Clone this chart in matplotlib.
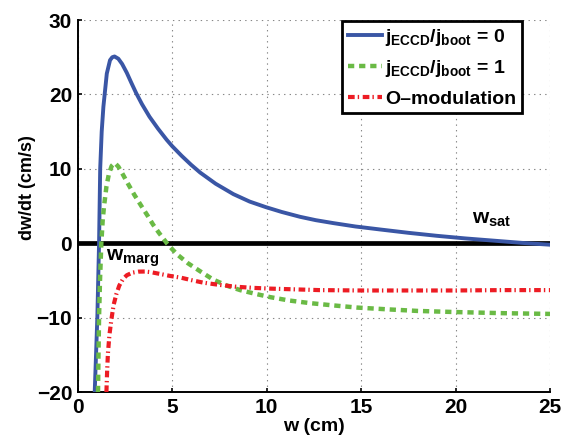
import matplotlib
matplotlib.use('Agg')
import matplotlib.pyplot as plt
import numpy as np

plt.rcParams['font.family'] = ['Liberation Sans', 'DejaVu Sans']
plt.rcParams['font.weight'] = 'bold'
plt.rcParams['mathtext.fontset'] = 'custom'
plt.rcParams['mathtext.rm'] = 'Liberation Sans:bold'
plt.rcParams['mathtext.it'] = 'Liberation Sans:bold'
plt.rcParams['mathtext.bf'] = 'Liberation Sans:bold'
plt.rcParams['lines.scale_dashes'] = False

# j_ECCD/j_boot = 0
w_0 = [0.90, 0.97, 1.04, 1.13, 1.19, 1.27, 1.36, 1.54, 1.71, 1.83, 1.95, 2.15, 2.35, 2.6,
       2.85, 3.09, 3.4, 3.8, 4.25, 4.71, 5.0, 5.5, 6.0, 6.48, 7.3, 8.24, 9.1, 9.96, 10.8,
       11.77, 12.6, 13.54, 14.7, 16.0, 17.5, 19.0, 20.5, 22.0, 23.5, 25.0]
dw_0 = [-20, -15, -9.9, 0, 10, 15, 18.35, 22.8, 24.6, 25.0, 25.1, 24.8, 24.1, 22.9,
        21.5, 20.2, 18.7, 17.0, 15.4, 13.9, 13.05, 11.75, 10.55, 9.5, 8.0, 6.6, 5.6, 4.85, 4.2,
        3.55, 3.1, 2.7, 2.25, 1.85, 1.4, 1.0, 0.65, 0.35, 0.05, -0.2]

# j_ECCD/j_boot = 1
w_1 = [1.075, 1.10, 1.13, 1.18, 1.25, 1.32, 1.39, 1.52, 1.65, 1.8, 1.96, 2.15, 2.4, 2.66,
       3.0, 3.37, 3.7, 3.99, 4.3, 4.72, 5.0, 5.31, 5.84, 6.5, 7.18, 8.0, 8.6, 9.4, 10.2, 11.2,
       12.3, 13.5, 14.8, 16.5, 18.0, 20.0, 22.5, 25.0]
dw_1 = [-20, -15, -9.9, -5, 0, 3, 4.9, 7.6, 9.3, 10.4, 10.8, 10.3, 9.2, 8.0,
        6.5, 5.0, 3.7, 2.5, 1.4, 0, -0.8, -1.6, -2.7, -3.8, -4.9, -5.8, -6.3, -6.8, -7.25, -7.7,
        -8.05, -8.35, -8.65, -8.9, -9.1, -9.25, -9.4, -9.5]

# O-modulation
w_om = [1.52, 1.56, 1.60, 1.68, 1.78, 1.9, 2.05, 2.2, 2.4, 2.6, 2.9, 3.2, 3.55, 3.9, 4.4,
        4.9, 5.5, 6.0, 6.65, 7.5, 8.4, 9.3, 10.2, 11.5, 12.8, 15.0, 17.5, 20.0, 22.5, 25.0]
dw_om = [-20, -17, -14.8, -12.3, -10.3, -8.3, -6.8, -5.7, -4.8, -4.3, -3.95, -3.82, -3.8, -3.9, -4.15,
         -4.4, -4.65, -4.95, -5.3, -5.6, -5.85, -6.0, -6.1, -6.2, -6.3, -6.35, -6.35, -6.35, -6.3, -6.3]

fig = plt.figure(figsize=(5.79, 4.4), dpi=100)
ax = fig.add_axes([0.1342, 0.109, 0.8158, 0.8455])

ax.axhline(0, color='black', lw=3.4, zorder=2)
ax.plot(w_0, dw_0, color='#3a56a5', lw=2.8, label=r'$j_{ECCD}/j_{boot}$ = 0', zorder=3)
ax.plot(w_1, dw_1, color='#6aba45', lw=3.2, dashes=(4.5, 3.5), label=r'$j_{ECCD}/j_{boot}$ = 1', zorder=3)
ax.plot(w_om, dw_om, color='#ed1c24', lw=3.0, dashes=(4.8, 2.2, 1.0, 2.6), label='O\u2013modulation', zorder=3)

ax.text(1.5, -0.55, r'$w_{marg}$', fontsize=15, ha='left', va='top')
ax.text(20.85, 4.4, r'$w_{sat}$', fontsize=15, ha='left', va='top')

ax.set_xlim(0, 25)
ax.set_ylim(-20, 30)
ax.set_xticks([0, 5, 10, 15, 20, 25])
ax.set_yticks([-20, -10, 0, 10, 20, 30])
ax.grid(True, color='#888888', linestyle=(0, (1, 3)), lw=0.8)
ax.spines['top'].set_visible(False)
ax.spines['right'].set_visible(False)
ax.spines['left'].set_linewidth(1.4)
ax.spines['bottom'].set_linewidth(1.4)
ax.tick_params(direction='in', length=3, width=1.2, labelsize=15, pad=4)
for lab in ax.get_xticklabels() + ax.get_yticklabels():
    lab.set_fontweight('bold')

ax.set_xlabel('w (cm)', fontsize=14, fontweight='bold', labelpad=1)
ax.set_ylabel('dw/dt (cm/s)', fontsize=13, fontweight='bold')
ax.yaxis.set_label_coords(-0.088, 0.55)

leg = ax.legend(loc='upper right', bbox_to_anchor=(0.941, 0.998), borderaxespad=0,
                fontsize=14, frameon=True, fancybox=False, handlelength=1.75,
                handletextpad=0.15, labelspacing=0.55, borderpad=0.3)
leg.get_frame().set_edgecolor('black')
leg.get_frame().set_linewidth(2)
leg.get_frame().set_alpha(1)

fig.savefig('out.png', dpi=100)
